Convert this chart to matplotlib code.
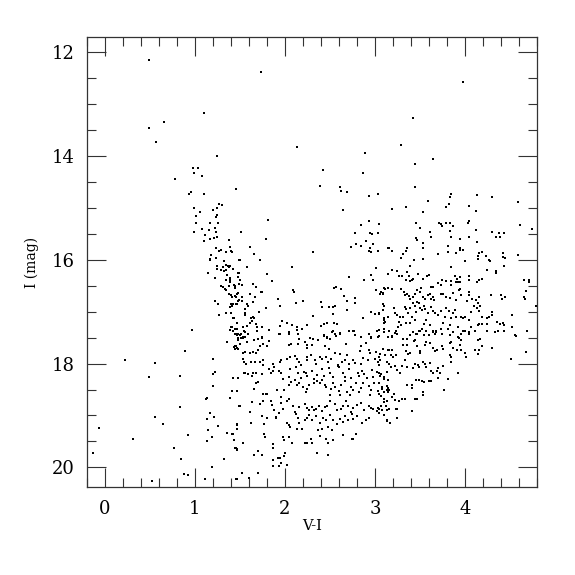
import matplotlib.pyplot as plt

# V-I colour and I magnitude
bright_pts = [
    (0.49, 12.14), (1.10, 13.16), (0.66, 13.34), (0.49, 13.45), (0.57, 13.73),
    (1.25, 14.00), (0.98, 14.22), (1.03, 14.22), (0.99, 14.32), (1.08, 14.39),
    (0.78, 14.44), (1.46, 14.63), (1.73, 12.38), (2.13, 13.83), (2.89, 13.94),
    (2.42, 14.26), (2.87, 14.32), (2.39, 14.57), (2.61, 14.60), (2.62, 14.68),
    (2.69, 14.70), (3.98, 12.57), (3.42, 13.27), (3.29, 13.79), (3.64, 14.05),
    (3.44, 14.15), (3.44, 14.59), (2.93, 14.76), (3.03, 14.73),
]

blue_pts = [
    (0.93, 14.73), (0.96, 14.70), (1.10, 14.73), (0.99, 15.00), (1.27, 14.92),
    (1.30, 14.95), (1.24, 15.00), (1.20, 15.04), (1.06, 15.08), (1.01, 15.15),
    (1.25, 15.13), (1.23, 15.17), (1.01, 15.29), (1.17, 15.28), (1.26, 15.28),
    (1.08, 15.40), (0.99, 15.46), (1.22, 15.38), (1.16, 15.42), (1.23, 15.46),
    (1.11, 15.52), (1.10, 15.64), (1.17, 15.59), (1.21, 15.58), (1.24, 15.56),
    (1.38, 15.61), (1.23, 15.77), (1.27, 15.82), (1.29, 15.81), (1.35, 15.85),
    (1.39, 15.76), (1.41, 15.84), (1.18, 15.90), (1.17, 15.98), (1.17, 16.00),
    (1.23, 15.96), (1.32, 16.02), (1.35, 16.09), (1.37, 16.12), (1.39, 16.12),
    (1.38, 16.14), (1.49, 16.01), (1.24, 16.11), (1.31, 16.14), (1.24, 16.18),
    (1.29, 16.19), (1.32, 16.21), (1.35, 16.19), (1.42, 16.18), (1.15, 16.26),
    (1.36, 16.30), (1.48, 16.26), (1.22, 16.35), (1.34, 16.39), (1.39, 16.35),
    (1.48, 16.34), (1.39, 16.43), (1.29, 16.50), (1.31, 16.53), (1.33, 16.56),
    (1.38, 16.50), (1.43, 16.49), (1.45, 16.50), (1.49, 16.47), (1.35, 16.58),
    (1.38, 16.65), (1.40, 16.67), (1.48, 16.63), (1.44, 16.70), (1.46, 16.72),
    (1.41, 16.71), (1.49, 16.77), (1.22, 16.79), (1.26, 16.86), (1.40, 16.86),
    (1.41, 16.88), (1.47, 16.86), (1.27, 17.06), (1.34, 17.03), (1.40, 17.02),
    (1.42, 17.13), (0.97, 17.36), (1.39, 17.35), (1.41, 17.30), (1.44, 17.33),
    (1.47, 17.33), (1.44, 17.42), (1.47, 17.45), (1.48, 17.43), (1.48, 17.50),
    (1.46, 17.43), (1.48, 17.55), (1.36, 17.58), (1.43, 17.68), (1.45, 17.71),
    (1.48, 17.71), (1.46, 17.66), (0.89, 17.75), (0.22, 17.93), (0.56, 17.99),
    (1.20, 17.92), (0.83, 18.23), (0.49, 18.25), (1.20, 18.20), (1.22, 18.16),
    (1.48, 18.28), (1.20, 18.43), (1.41, 18.52), (1.47, 18.52), (1.39, 18.67),
    (1.12, 18.68), (1.13, 18.66), (0.83, 18.83), (1.49, 18.82), (1.17, 18.95),
    (0.56, 19.03), (1.21, 19.03), (1.13, 19.07), (0.64, 19.16), (1.26, 19.21),
    (1.47, 19.17), (1.47, 19.26), (-0.07, 19.25), (1.15, 19.28), (1.36, 19.34),
    (1.41, 19.35), (0.92, 19.37), (1.19, 19.41), (1.43, 19.48), (1.13, 19.50),
    (0.31, 19.45), (1.45, 19.62), (1.47, 19.65), (0.77, 19.63), (-0.13, 19.73),
    (0.84, 19.84), (1.32, 19.83), (1.19, 19.99), (0.88, 20.13), (0.92, 20.15),
    (1.11, 20.23), (0.52, 20.27), (1.46, 20.23),
]

mid_pts = [
    (2.64, 15.03), (1.81, 15.24), (1.51, 15.46), (1.79, 15.59), (2.84, 15.33),
    (2.93, 15.26), (3.05, 15.31), (2.78, 15.49), (2.94, 15.49), (2.97, 15.51),
    (3.03, 15.49), (2.90, 15.64), (2.98, 15.69), (2.79, 15.69), (2.85, 15.74),
    (2.73, 15.76), (2.94, 15.78), (2.93, 15.83), (2.96, 15.85), (3.03, 15.83),
    (3.15, 15.78), (2.31, 15.85), (1.61, 15.76), (1.40, 15.83), (1.66, 15.89),
    (1.72, 16.01), (1.50, 16.01), (1.58, 16.14), (2.08, 16.14), (3.01, 16.15),
    (3.14, 16.27), (2.96, 16.29), (1.49, 16.25), (1.80, 16.27), (2.71, 16.34),
    (2.88, 16.38), (1.86, 16.41), (1.39, 16.39), (1.50, 16.39), (1.52, 16.49),
    (1.45, 16.50), (1.44, 16.54), (1.64, 16.47), (1.68, 16.53), (2.98, 16.39),
    (2.55, 16.54), (2.57, 16.52), (2.62, 16.57), (3.01, 16.58), (3.07, 16.61),
    (3.09, 16.66), (3.10, 16.54), (3.15, 16.54), (2.09, 16.59), (2.10, 16.61),
    (1.73, 16.61), (1.75, 16.61), (1.47, 16.66), (1.52, 16.71), (1.48, 16.79),
    (1.52, 16.79), (1.61, 16.65), (1.58, 16.86), (1.59, 16.89), (1.67, 16.71),
    (1.65, 16.81), (1.92, 16.76), (1.94, 16.88), (2.20, 16.80), (2.12, 16.84),
    (2.40, 16.81), (2.41, 16.90), (2.49, 16.90), (2.53, 16.90), (2.56, 16.88),
    (2.66, 16.70), (2.69, 16.79), (2.78, 16.73), (2.78, 16.84), (2.69, 16.97),
    (2.53, 17.04), (2.87, 17.13), (2.96, 17.00), (3.00, 17.04), (3.05, 17.03),
    (3.10, 16.88), (3.09, 16.96), (3.10, 17.16), (3.10, 17.21), (2.31, 17.08),
    (1.79, 16.93), (1.71, 17.00), (1.39, 16.90), (1.42, 16.86), (1.46, 16.86),
    (1.43, 17.12), (1.56, 16.94), (1.56, 17.02), (1.56, 17.07), (1.62, 17.12),
    (1.64, 17.10), (1.66, 17.13), (1.63, 17.17), (1.68, 17.23), (1.69, 17.30),
    (1.69, 17.37), (1.74, 17.29), (1.74, 17.48), (1.75, 17.50), (1.47, 17.21),
    (1.53, 17.29), (1.58, 17.28), (1.61, 17.21), (1.40, 17.29), (1.46, 17.33),
    (1.51, 17.43), (1.53, 17.48), (1.56, 17.39), (1.53, 17.51), (1.59, 17.42),
    (1.56, 17.48), (1.82, 17.35), (1.94, 17.27), (1.94, 17.42), (1.97, 17.17),
    (2.02, 17.21), (2.08, 17.26), (2.13, 17.29), (2.13, 17.35), (2.19, 17.33),
    (2.25, 17.26), (2.04, 17.42), (2.14, 17.43), (2.28, 17.50), (2.31, 17.52),
    (2.40, 17.28), (2.43, 17.23), (2.47, 17.21), (2.53, 17.37), (2.56, 17.42),
    (2.61, 17.41), (2.58, 17.23), (2.55, 17.21), (2.43, 17.44), (2.47, 17.51),
    (2.71, 17.37), (2.76, 17.37), (2.78, 17.44), (2.93, 17.42), (2.96, 17.51),
    (3.03, 17.49), (3.05, 17.35), (3.10, 17.33),
]

red_pts = [
    (3.44, 14.60), (3.83, 14.78), (3.85, 14.73), (4.13, 14.74), (4.30, 14.78),
    (4.59, 14.88), (3.59, 14.86), (3.19, 15.02), (3.34, 14.99), (3.53, 15.07),
    (3.79, 14.99), (3.82, 14.93), (4.04, 14.97), (4.12, 15.06), (3.46, 15.28),
    (3.50, 15.38), (3.71, 15.28), (3.73, 15.31), (3.75, 15.35), (3.79, 15.28),
    (3.83, 15.29), (3.87, 15.35), (4.03, 15.28), (4.04, 15.26), (3.61, 15.47),
    (3.62, 15.55), (3.46, 15.58), (3.47, 15.62), (3.83, 15.45), (3.84, 15.56),
    (4.12, 15.42), (4.13, 15.65), (3.95, 15.60), (4.04, 15.55), (4.30, 15.47),
    (4.35, 15.56), (4.38, 15.48), (4.39, 15.56), (4.43, 15.49), (4.61, 15.33),
    (4.75, 15.40), (3.53, 15.67), (3.53, 15.78), (3.81, 15.73), (3.81, 15.84),
    (3.94, 15.81), (3.95, 15.78), (3.98, 15.81), (3.90, 15.86), (3.70, 15.89),
    (3.36, 15.77), (3.35, 15.83), (3.16, 15.78), (3.19, 15.82), (3.31, 15.89),
    (3.29, 15.97), (3.43, 16.00), (3.53, 15.98), (4.16, 15.86), (4.19, 15.85),
    (4.15, 15.92), (4.14, 15.98), (4.23, 15.92), (4.27, 16.00), (4.28, 16.03),
    (4.00, 16.03), (4.42, 15.86), (4.45, 15.96), (4.42, 15.95), (4.59, 15.90),
    (4.34, 16.21), (4.35, 16.26), (4.24, 16.20), (4.43, 16.12), (3.39, 16.12),
    (3.84, 16.13), (3.19, 16.20), (3.25, 16.21), (3.14, 16.27), (3.27, 16.31),
    (3.30, 16.32), (3.36, 16.23), (3.38, 16.31), (3.41, 16.38), (3.42, 16.36),
    (3.39, 16.41), (3.35, 16.39), (3.48, 16.28), (3.53, 16.37), (3.58, 16.32),
    (3.60, 16.29), (3.74, 16.38), (3.70, 16.45), (3.73, 16.48), (3.79, 16.41),
    (3.89, 16.31), (3.91, 16.36), (3.94, 16.34), (3.90, 16.42), (3.92, 16.42),
    (3.95, 16.43), (4.04, 16.32), (4.05, 16.39), (4.16, 16.39), (4.13, 16.43),
    (4.19, 16.37), (3.84, 16.41), (3.84, 16.49), (4.66, 16.38), (4.71, 16.38),
    (4.71, 16.43), (3.14, 16.54), (3.19, 16.56), (3.11, 16.57), (3.09, 16.63),
    (3.06, 16.65), (3.29, 16.56), (3.32, 16.61), (3.33, 16.67), (3.36, 16.65),
    (3.38, 16.70), (3.39, 16.76), (3.42, 16.71), (3.45, 16.65), (3.47, 16.58),
    (3.51, 16.54), (3.50, 16.62), (3.62, 16.52), (3.65, 16.52), (3.61, 16.65),
    (3.64, 16.71), (3.62, 16.75), (3.66, 16.77), (3.59, 16.68), (3.56, 16.76),
    (3.53, 16.72), (3.73, 16.65), (3.76, 16.66), (3.79, 16.71), (3.83, 16.74),
    (3.87, 16.63), (3.93, 16.58), (3.94, 16.56), (3.90, 16.77), (3.96, 16.68),
    (4.04, 16.61), (4.05, 16.68), (4.02, 16.79), (4.08, 16.76), (4.12, 16.77),
    (4.16, 16.71), (4.15, 16.84), (4.10, 16.89), (4.17, 16.89), (4.29, 16.67),
    (4.30, 17.00), (4.40, 16.68), (4.44, 16.72), (4.41, 16.75), (4.68, 16.60),
    (4.66, 16.72), (4.67, 16.75), (4.79, 16.88), (3.09, 16.86), (3.05, 17.04),
    (3.10, 17.12), (3.14, 17.10), (3.11, 17.20), (3.21, 16.92), (3.22, 17.02),
    (3.25, 17.06), (3.28, 17.11), (3.27, 17.19), (3.31, 17.10), (3.33, 16.90),
    (3.35, 16.95), (3.37, 17.02), (3.39, 16.92), (3.42, 16.84), (3.44, 16.88),
    (3.47, 16.81), (3.49, 16.84), (3.50, 16.92), (3.52, 16.97), (3.54, 16.89),
    (3.56, 16.94), (3.59, 17.02), (3.46, 17.01), (3.41, 17.10), (3.44, 17.16),
    (3.62, 16.90), (3.64, 16.98), (3.67, 17.02), (3.70, 17.06), (3.73, 16.98),
    (3.79, 16.93), (3.82, 16.98), (3.87, 17.02), (3.89, 16.96), (3.78, 17.10),
    (3.84, 17.12), (3.90, 17.10), (3.96, 17.10), (3.98, 17.12), (4.00, 17.10),
    (4.05, 17.15), (4.07, 17.01), (4.13, 16.93), (4.16, 16.98), (4.19, 17.11),
    (4.24, 17.12), (4.27, 17.10), (4.30, 17.06), (4.36, 17.20), (4.39, 17.23),
    (4.42, 17.21), (4.43, 17.25), (4.52, 17.07), (4.52, 17.30), (4.56, 17.45),
    (4.69, 17.37), (3.57, 17.16), (3.55, 17.24), (3.61, 17.26), (3.64, 17.38),
    (3.68, 17.39), (3.76, 17.22), (3.73, 17.33), (3.81, 17.33), (3.83, 17.26),
    (3.87, 17.39), (3.92, 17.29), (3.98, 17.38), (4.04, 17.42), (4.07, 17.29),
    (4.14, 17.26), (4.16, 17.24), (4.19, 17.23), (4.24, 17.23), (3.16, 17.37),
    (3.19, 17.46), (3.22, 17.41), (3.26, 17.29), (3.29, 17.25), (3.35, 17.22),
    (3.39, 17.22), (3.42, 17.39), (3.46, 17.42), (3.49, 17.37), (3.52, 17.34),
]

faint_red_pts = [
    (3.19, 17.48), (3.23, 17.38), (3.24, 17.43), (3.31, 17.53), (3.36, 17.52),
    (3.39, 17.44), (3.43, 17.56), (3.47, 17.43), (3.50, 17.38), (3.54, 17.44),
    (3.57, 17.37), (3.60, 17.44), (3.64, 17.40), (3.67, 17.42), (3.68, 17.38),
    (3.74, 17.43), (3.83, 17.44), (3.87, 17.40), (3.92, 17.48), (3.96, 17.43),
    (4.00, 17.37), (4.05, 17.40), (4.11, 17.37), (4.15, 17.55), (4.17, 17.53),
    (4.24, 17.38), (4.33, 17.39), (4.37, 17.38), (4.43, 17.38), (4.57, 17.46),
    (4.69, 17.38), (3.05, 17.87), (3.06, 17.94), (3.09, 17.71), (3.15, 17.74),
    (3.19, 17.74), (3.18, 17.83), (3.20, 17.87), (3.23, 17.84), (3.31, 17.65),
    (3.36, 17.64), (3.35, 17.76), (3.37, 17.82), (3.39, 17.80), (3.44, 17.55),
    (3.47, 17.66), (3.50, 17.75), (3.50, 17.79), (3.56, 17.65), (3.57, 17.58),
    (3.61, 17.61), (3.65, 17.69), (3.67, 17.76), (3.69, 17.73), (3.74, 17.67),
    (3.76, 17.71), (3.83, 17.60), (3.85, 17.58), (3.87, 17.69), (3.93, 17.51),
    (3.96, 17.55), (3.94, 17.65), (3.91, 17.73), (3.96, 17.74), (4.00, 17.80),
    (4.01, 17.88), (4.11, 17.73), (4.15, 17.82), (4.16, 17.73), (4.19, 17.67),
    (4.30, 17.69), (4.51, 17.91), (4.68, 17.78), (3.05, 18.18), (3.07, 18.20),
    (3.10, 18.29), (3.16, 18.00), (3.18, 18.06), (3.22, 18.04), (3.24, 18.12),
    (3.28, 18.19), (3.30, 18.04), (3.33, 17.94), (3.36, 18.07), (3.42, 18.09),
    (3.45, 18.00), (3.48, 18.02), (3.49, 18.07), (3.53, 17.97), (3.56, 18.00),
    (3.57, 18.06), (3.61, 17.98), (3.62, 18.14), (3.65, 18.18), (3.69, 18.15),
    (3.70, 18.09), (3.72, 18.18), (3.76, 18.05), (3.83, 17.83), (3.84, 17.88),
    (3.85, 17.97), (3.92, 18.18), (3.05, 18.38), (3.08, 18.45), (3.10, 18.54),
    (3.13, 18.50), (3.14, 18.47), (3.16, 18.51), (3.07, 18.63), (3.10, 18.69),
    (3.13, 18.72), (3.19, 18.64), (3.21, 18.59), (3.22, 18.70), (3.27, 18.73),
    (3.30, 18.68), (3.33, 18.68), (3.36, 18.42), (3.41, 18.47), (3.41, 18.41),
    (3.46, 18.32), (3.49, 18.32), (3.52, 18.33), (3.54, 18.36), (3.60, 18.34),
    (3.62, 18.34), (3.70, 18.28), (3.77, 18.51), (3.81, 18.29), (3.45, 18.68),
    (3.47, 18.68), (3.53, 18.61), (3.53, 18.54), (3.05, 18.88), (3.08, 18.90),
    (3.05, 18.96), (3.16, 18.88), (3.23, 18.87), (3.25, 18.88), (3.10, 18.99),
    (3.13, 19.09), (3.17, 19.14), (3.25, 19.04), (3.41, 18.91),
]

faint_pts = [
    (1.42, 17.37), (1.45, 17.43), (1.50, 17.44), (1.53, 17.48), (1.56, 17.39),
    (1.54, 17.37), (1.51, 17.51), (1.48, 17.55), (1.44, 17.67), (1.47, 17.70),
    (1.50, 17.62), (1.58, 17.58), (1.66, 17.55), (1.70, 17.53), (1.74, 17.48),
    (1.76, 17.62), (1.72, 17.66), (1.70, 17.73), (1.80, 17.66), (1.82, 17.56),
    (1.93, 17.43), (2.05, 17.40), (2.05, 17.65), (2.07, 17.62), (2.14, 17.62),
    (2.16, 17.53), (2.22, 17.58), (2.24, 17.65), (2.25, 17.69), (2.30, 17.65),
    (2.37, 17.55), (2.43, 17.47), (2.47, 17.49), (2.50, 17.52), (2.52, 17.40),
    (2.61, 17.42), (2.57, 17.47), (2.68, 17.62), (2.77, 17.37), (2.85, 17.49),
    (2.85, 17.66), (2.90, 17.61), (2.96, 17.49), (3.02, 17.37), (3.05, 17.47),
    (3.10, 17.40), (3.15, 17.49), (2.45, 17.67), (2.49, 17.71), (2.56, 17.79),
    (2.61, 17.82), (2.69, 17.84), (2.83, 17.75), (2.93, 17.74), (2.95, 17.80),
    (3.01, 17.78), (3.06, 17.82), (3.11, 17.84), (3.16, 17.73),
    (1.53, 17.79), (1.56, 17.78), (1.61, 17.79), (1.65, 17.78), (1.68, 17.80),
    (1.53, 17.92), (1.55, 17.97), (1.57, 18.01), (1.62, 17.96), (1.67, 17.97),
    (1.72, 17.97), (1.76, 17.94), (1.76, 18.02), (1.87, 18.00), (1.88, 18.06),
    (1.94, 17.96), (1.96, 17.93), (2.02, 17.92), (2.06, 17.87), (2.11, 17.86),
    (2.13, 17.92), (2.16, 17.96), (2.18, 18.02), (2.24, 17.94), (2.25, 17.87),
    (2.29, 17.83), (2.33, 17.93), (2.34, 18.00), (2.39, 17.87), (2.41, 17.92),
    (2.46, 17.87), (2.48, 17.96), (2.51, 17.92), (2.56, 17.80), (2.59, 18.02),
    (2.63, 17.97), (2.67, 17.93), (2.71, 18.00), (2.76, 17.93), (2.78, 17.98),
    (2.84, 18.00), (2.87, 17.89), (2.92, 17.93), (3.00, 17.92), (3.03, 17.97),
    (3.05, 18.02), (3.13, 17.97),
    (1.42, 18.27), (1.55, 18.19), (1.56, 18.18), (1.59, 18.20), (1.63, 18.24),
    (1.65, 18.19), (1.68, 18.18), (1.74, 18.20), (1.82, 18.11), (1.85, 18.18),
    (1.87, 18.15), (1.93, 18.14), (1.96, 18.19), (1.98, 18.29), (2.04, 18.25),
    (2.06, 18.11), (2.12, 18.07), (2.15, 18.19), (2.18, 18.27), (2.21, 18.16),
    (2.23, 18.19), (2.25, 18.23), (2.30, 18.14), (2.32, 18.29), (2.36, 18.22),
    (2.41, 18.11), (2.43, 18.24), (2.49, 18.09), (2.50, 18.18), (2.53, 18.25),
    (2.59, 18.05), (2.60, 18.07), (2.65, 18.18), (2.67, 18.25), (2.71, 18.10),
    (2.73, 18.27), (2.81, 18.18), (2.82, 18.23), (2.86, 18.15), (2.88, 18.20),
    (2.91, 18.28), (2.97, 18.12), (2.98, 18.25), (3.02, 18.16), (3.06, 18.23),
    (3.10, 18.25), (3.13, 18.16), (3.15, 18.31),
    (1.41, 18.52), (1.47, 18.52), (1.39, 18.67), (1.66, 18.49), (1.68, 18.38),
    (1.70, 18.36), (1.76, 18.58), (1.79, 18.59), (1.80, 18.59), (1.85, 18.73),
    (1.91, 18.50), (1.96, 18.64), (1.99, 18.51), (2.04, 18.42), (2.07, 18.36),
    (2.11, 18.32), (2.13, 18.42), (2.16, 18.37), (2.20, 18.46), (2.23, 18.55),
    (2.25, 18.49), (2.27, 18.42), (2.32, 18.38), (2.36, 18.34), (2.39, 18.37),
    (2.41, 18.32), (2.44, 18.41), (2.46, 18.45), (2.51, 18.49), (2.53, 18.38),
    (2.56, 18.46), (2.60, 18.52), (2.62, 18.42), (2.67, 18.34), (2.69, 18.55),
    (2.73, 18.45), (2.76, 18.51), (2.79, 18.38), (2.82, 18.55), (2.85, 18.47),
    (2.87, 18.37), (2.93, 18.43), (2.96, 18.50), (2.99, 18.38), (3.03, 18.52),
    (3.08, 18.49), (3.13, 18.43), (3.15, 18.54), (2.50, 18.61), (2.61, 18.61),
    (2.72, 18.61), (2.94, 18.61), (3.05, 18.59),
    (1.50, 18.82), (1.61, 18.94), (1.63, 18.74), (1.72, 18.78), (1.76, 18.72),
    (1.86, 18.79), (1.88, 18.90), (1.90, 19.03), (1.96, 18.76), (1.98, 18.88),
    (2.02, 18.73), (2.05, 18.69), (2.09, 18.81), (2.11, 18.94), (2.16, 18.83),
    (2.22, 18.77), (2.24, 18.86), (2.27, 18.90), (2.30, 18.83), (2.32, 18.90),
    (2.35, 18.87), (2.38, 18.81), (2.41, 18.91), (2.45, 18.83), (2.47, 18.81),
    (2.50, 18.73), (2.56, 18.77), (2.58, 18.90), (2.62, 18.88), (2.65, 18.81),
    (2.68, 18.72), (2.70, 18.82), (2.73, 18.94), (2.76, 18.85), (2.80, 18.79),
    (2.84, 18.76), (2.88, 18.90), (2.93, 18.81), (2.96, 18.86), (2.98, 18.87),
    (3.02, 18.91), (3.03, 18.85), (3.07, 18.81), (3.10, 18.74), (3.12, 18.82),
    (3.13, 18.90),
    (1.62, 19.14), (1.47, 19.18), (1.47, 19.27), (1.74, 19.01), (1.77, 19.17),
    (1.80, 19.05), (1.90, 19.04), (1.93, 18.96), (2.02, 19.15), (2.04, 19.18),
    (2.06, 19.22), (2.12, 18.98), (2.14, 19.05), (2.16, 19.14), (2.19, 19.26),
    (2.22, 19.09), (2.25, 19.04), (2.27, 19.00), (2.30, 19.09), (2.35, 19.01),
    (2.39, 19.14), (2.42, 19.04), (2.46, 19.09), (2.48, 19.23), (2.50, 19.00),
    (2.53, 19.08), (2.58, 19.17), (2.61, 19.06), (2.65, 19.13), (2.67, 19.01),
    (2.70, 19.09), (2.74, 18.98), (2.76, 19.06), (2.80, 19.01), (2.86, 19.15),
    (2.90, 19.09), (2.93, 19.04), (3.13, 19.10), (2.52, 19.28), (2.41, 19.27),
    (2.37, 19.28),
    (1.42, 19.36), (1.46, 19.63), (1.47, 19.66), (1.53, 19.54), (1.77, 19.35),
    (1.78, 19.42), (1.87, 19.55), (1.87, 19.62), (1.98, 19.41), (1.99, 19.48),
    (2.05, 19.41), (2.08, 19.54), (2.13, 19.26), (2.22, 19.53), (2.24, 19.54),
    (2.29, 19.45), (2.30, 19.53), (2.39, 19.40), (2.46, 19.46), (2.48, 19.54),
    (2.53, 19.48), (2.65, 19.37), (2.74, 19.45), (2.76, 19.45), (2.79, 19.35),
    (1.66, 19.77), (1.70, 19.68), (1.74, 19.77), (1.87, 19.85), (1.92, 19.82),
    (1.94, 19.82), (1.99, 19.79), (2.00, 19.72), (1.87, 19.97), (1.93, 19.98),
    (1.96, 19.91), (2.02, 19.95), (2.36, 19.72), (2.48, 19.77), (1.52, 20.11),
    (1.47, 20.22), (1.60, 20.20), (1.70, 20.11),
]

all_pts = bright_pts + blue_pts + mid_pts + red_pts + faint_red_pts + faint_pts
vi = [p[0] for p in all_pts]
imag = [p[1] for p in all_pts]

plt.rcParams['font.family'] = 'DejaVu Serif'

fig = plt.figure(figsize=(5.75, 5.75), dpi=100)
ax = fig.add_axes([0.1513, 0.153, 0.7826, 0.782])

ax.plot(vi, imag, 's', color='black', markersize=1.8, markeredgewidth=0)

# ticks first, limits afterwards (set_ticks can widen the view)
ax.set_xticks([0, 1, 2, 3, 4])
ax.set_yticks([12, 14, 16, 18, 20])
ax.set_xticks([i * 0.2 for i in range(-1, 25)], minor=True)
ax.set_yticks([12 + i * 0.5 for i in range(0, 17)], minor=True)
ax.set_xlim(-0.2, 4.8)
ax.set_ylim(20.38, 11.71)

ax.tick_params(which='both', direction='in', top=True, right=True, width=0.8, color='#333333')
ax.tick_params(which='major', length=14, labelsize=13, pad=9)
ax.tick_params(which='minor', length=6.7)
for s in ax.spines.values():
    s.set_linewidth(0.9)
    s.set_color('#333333')

ax.set_xlabel('V-I', fontsize=10.5, labelpad=1)
ax.set_ylabel('I (mag)', fontsize=10, labelpad=9)

fig.savefig('out.png', dpi=100)
